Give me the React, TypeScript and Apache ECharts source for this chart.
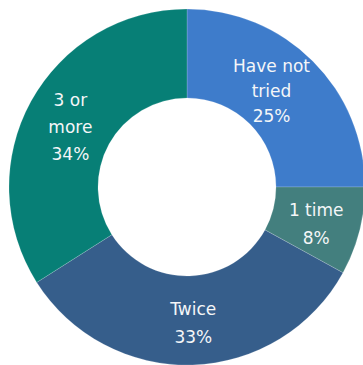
import React, { useEffect, useRef } from "react";
import * as echarts from "echarts";

const categories = ["Have not\ntried", "1 time", "Twice", "3 or\nmore"];
const values = [25, 8, 33, 34];
const colors = ["#3E7CCB", "#437F7E", "#365E8B", "#077F76"];

const labelTweaks: any[] = [
  { padding: [0, 24, 0, 0], lineHeight: 25 },
  { padding: [0, 6, 0, 0], lineHeight: 28 },
  { padding: [0, 0, 0, 4], lineHeight: 28 },
  { padding: [0, 0, 0, 6], lineHeight: 27 },
];
const spacerKeys = ["s2", "s6", "s0", "s12"];

export default function App() {
  const ref = useRef<HTMLDivElement>(null);
  useEffect(() => {
    if (!ref.current) return;
    const chart = echarts.init(ref.current, null, { renderer: "svg" });
    chart.setOption({
      animation: false,
      series: [
        {
          type: "pie",
          center: [187, 187],
          radius: [89, 178],
          startAngle: 90,
          clockwise: true,
          avoidLabelOverlap: false,
          data: categories.map((c, i) => ({
            name: c,
            value: values[i],
            itemStyle: { color: colors[i] },
            label: labelTweaks[i],
          })),
          itemStyle: { borderColor: "rgba(255,255,255,0.35)", borderWidth: 0.5 },
          label: {
            show: true,
            position: "inside",
            formatter: (p: any) => {
              const k = spacerKeys[p.dataIndex];
              const lines = `${p.name}\n${p.value}%`;
              return k === "s0" ? lines : `{${k}| }\n${lines}`;
            },
            color: "#f4f6f8",
            fontFamily: "DejaVu Sans",
            fontSize: 17,
            lineHeight: 25,
            align: "center",
            rich: {
              s2: { fontSize: 2, lineHeight: 2 },
              s6: { fontSize: 6, lineHeight: 6 },
              s12: { fontSize: 12, lineHeight: 12 },
            },
          },
          labelLine: { show: false },
          emphasis: { disabled: true },
        },
      ],
    });
    return () => chart.dispose();
  }, []);
  return <div ref={ref} style={{ width: 363, height: 365, position: "absolute", left: 0, top: 0 }} />;
}
